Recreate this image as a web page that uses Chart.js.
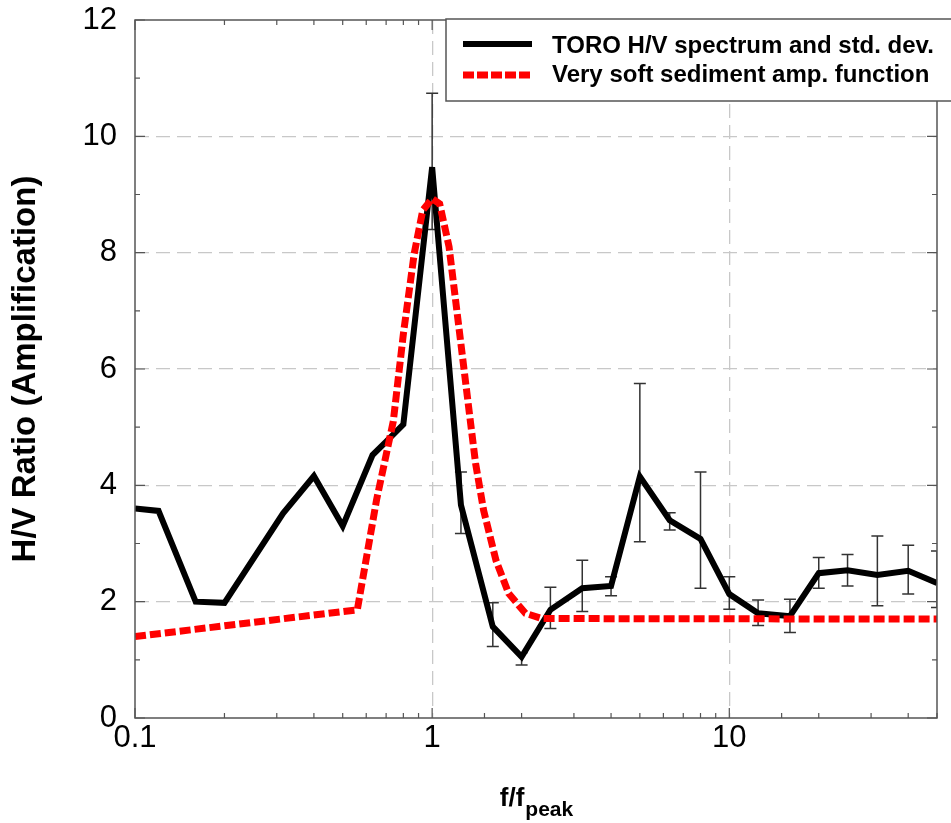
<!DOCTYPE html>
<html>
<head>
<meta charset="utf-8">
<script src="https://cdn.jsdelivr.net/npm/chart.js@4/dist/chart.umd.min.js"></script>
<style>
  html, body { margin: 0; padding: 0; background: #fff; }
  canvas { display: block; }
</style>
</head>
<body>
<canvas id="hv" width="951" height="823"></canvas>
<script>
// TORO H/V spectrum (f/fpeak)
const freqHV = [0.1, 0.12, 0.16, 0.2, 0.315, 0.4, 0.5, 0.63, 0.7, 0.8, 1.0, 1.25, 1.6, 2.0, 2.5, 3.2, 4.0, 5.0, 6.3, 8.0, 10, 12.5, 16, 20, 25, 31.5, 40, 50]
const hvRatio = [3.60, 3.56, 2.00, 1.98, 3.52, 4.16, 3.30, 4.52, 4.75, 5.05, 9.47, 3.66, 1.57, 1.05, 1.86, 2.23, 2.27, 4.15, 3.40, 3.08, 2.13, 1.80, 1.75, 2.49, 2.54, 2.46, 2.53, 2.32]
// std. dev. bars (null = none drawn)
const hvHigh = [null, null, null, null, null, null, null, null, null, null, 10.74, 4.23, 1.98, 1.12, 2.25, 2.71, 2.43, 5.75, 3.53, 4.23, 2.43, 2.03, 2.04, 2.76, 2.81, 3.13, 2.97, 2.87]
const hvLow = [null, null, null, null, null, null, null, null, null, null, 8.40, 3.17, 1.23, 0.91, 1.54, 1.83, 2.10, 3.03, 3.23, 2.23, 1.87, 1.59, 1.47, 2.23, 2.27, 1.93, 2.13, 1.90]

// very soft sediment amplification function
const freqAmp = [0.1, 0.56, 0.65, 0.74, 0.8, 0.87, 0.93, 1.0, 1.06, 1.14, 1.23, 1.33, 1.4, 1.49, 1.64, 1.81, 2.06, 2.34, 50]
const ampFunc = [1.40, 1.86, 3.75, 5.10, 6.60, 7.98, 8.73, 8.93, 8.84, 8.10, 6.72, 5.30, 4.38, 3.57, 2.71, 2.14, 1.80, 1.71, 1.70]

const xTickLabels = [0.1, 1, 10]
const seriesNames = ['TORO H/V spectrum and std. dev.', 'Very soft sediment amp. function']

const FONT = "'Liberation Sans', Arial, sans-serif"
const FRAME = '#555'
const GRID = '#c8c8c8'

const isDecade = v => Math.abs(Math.log10(v) - Math.round(Math.log10(v))) < 1e-6

// error bars, drawn under the lines
const errorBars = {
  id: 'errorBars',
  beforeDatasetsDraw(chart) {
    const { ctx, chartArea, scales: { x, y } } = chart
    ctx.save()
    ctx.beginPath()
    ctx.rect(chartArea.left, chartArea.top, chartArea.right - chartArea.left, chartArea.bottom - chartArea.top)
    ctx.clip()
    ctx.strokeStyle = '#333'
    ctx.lineWidth = 1.5
    freqHV.forEach((f, i) => {
      if (hvHigh[i] == null) return
      const px = x.getPixelForValue(f)
      const yt = y.getPixelForValue(hvHigh[i])
      const yb = y.getPixelForValue(hvLow[i])
      ctx.beginPath()
      ctx.moveTo(px, yt); ctx.lineTo(px, yb)
      ctx.moveTo(px - 6, yt); ctx.lineTo(px + 6, yt)
      ctx.moveTo(px - 6, yb); ctx.lineTo(px + 6, yb)
      ctx.stroke()
    })
    ctx.restore()
  }
}

// box frame with inward ticks, x title with subscript, boxed legend
const frameAndLegend = {
  id: 'frameAndLegend',
  afterDraw(chart) {
    const { ctx, chartArea: a, scales: { x, y } } = chart
    ctx.save()
    ctx.strokeStyle = FRAME
    ctx.lineWidth = 1.5
    ctx.strokeRect(a.left, a.top, a.right - a.left, a.bottom - a.top)

    ctx.lineWidth = 1.2
    ctx.beginPath()
    x.ticks.forEach(t => {
      const px = x.getPixelForValue(t.value)
      const len = isDecade(t.value) ? 10 : 5
      ctx.moveTo(px, a.bottom); ctx.lineTo(px, a.bottom - len)
      ctx.moveTo(px, a.top); ctx.lineTo(px, a.top + len)
    })
    y.ticks.forEach(t => {
      const py = y.getPixelForValue(t.value)
      const len = t.value % 2 === 0 ? 10 : 5
      ctx.moveTo(a.left, py); ctx.lineTo(a.left + len, py)
      ctx.moveTo(a.right, py); ctx.lineTo(a.right - len, py)
    })
    ctx.stroke()

    // x title f/f_peak
    ctx.fillStyle = '#000'
    ctx.textBaseline = 'alphabetic'
    const main = 'f/f'
    ctx.font = 'bold 21px ' + FONT
    const subW = ctx.measureText('peak').width
    ctx.font = 'bold 26px ' + FONT
    const mainW = ctx.measureText(main).width
    const cx = (a.left + a.right) / 2
    const sx = cx - (mainW + subW) / 2
    ctx.fillText(main, sx, 806)
    ctx.font = 'bold 21px ' + FONT
    ctx.fillText('peak', sx + mainW + 1, 816)

    // legend box
    ctx.fillStyle = '#fff'
    ctx.fillRect(446, 19, 520, 82)
    ctx.strokeStyle = FRAME
    ctx.lineWidth = 1.5
    ctx.strokeRect(446, 19, 520, 82)

    const ds = chart.data.datasets
    ctx.lineCap = 'butt'
    ctx.strokeStyle = ds[0].borderColor
    ctx.lineWidth = 6
    ctx.beginPath(); ctx.moveTo(463, 44); ctx.lineTo(532, 44); ctx.stroke()
    ctx.strokeStyle = ds[1].borderColor
    ctx.lineWidth = 7
    ctx.setLineDash([11, 3])
    ctx.beginPath(); ctx.moveTo(463, 75); ctx.lineTo(532, 75); ctx.stroke()
    ctx.setLineDash([])

    ctx.fillStyle = '#000'
    ctx.font = 'bold 24px ' + FONT
    ctx.fillText(seriesNames[0], 552, 53)
    ctx.fillText(seriesNames[1], 552, 82)
    ctx.restore()
  }
}

new Chart(document.getElementById('hv'), {
  type: 'line',
  data: {
    datasets: [
      {
        label: seriesNames[0],
        data: freqHV.map((f, i) => ({ x: f, y: hvRatio[i] })),
        borderColor: '#000',
        borderWidth: 6,
        pointRadius: 0,
        tension: 0,
        order: 1
      },
      {
        label: seriesNames[1],
        data: freqAmp.map((f, i) => ({ x: f, y: ampFunc[i] })),
        borderColor: '#ff0000',
        borderWidth: 7,
        borderDash: [11, 4],
        borderCapStyle: 'butt',
        pointRadius: 0,
        tension: 0,
        order: 0
      }
    ]
  },
  options: {
    responsive: false,
    animation: false,
    devicePixelRatio: 1,
    layout: { padding: { top: 20, right: 14, left: 0, bottom: 0 } },
    plugins: { legend: { display: false }, tooltip: { enabled: false } },
    scales: {
      x: {
        type: 'logarithmic',
        min: 0.1,
        max: 50,
        afterFit: s => { s.height = 105; s.paddingLeft = 0; s.paddingRight = 0 },
        border: { display: false, dash: [14, 7] },
        grid: {
          drawTicks: false,
          lineWidth: 1.3,
          color: c => (c.tick && (Math.abs(c.tick.value - 1) < 1e-9 || Math.abs(c.tick.value - 10) < 1e-9)) ? GRID : 'rgba(0,0,0,0)'
        },
        ticks: {
          autoSkip: false,
          maxRotation: 0,
          padding: 2,
          color: '#000',
          font: { family: FONT, size: 31 },
          callback: v => xTickLabels.some(t => Math.abs(t - v) < 1e-9) ? String(v) : ''
        }
      },
      y: {
        min: 0,
        max: 12,
        afterFit: s => { s.width = 135; s.paddingTop = 0; s.paddingBottom = 0 },
        border: { display: false, dash: [14, 7] },
        grid: {
          drawTicks: false,
          lineWidth: 1.3,
          color: c => (c.tick && c.tick.value % 2 === 0 && c.tick.value > 0 && c.tick.value < 12) ? GRID : 'rgba(0,0,0,0)'
        },
        ticks: {
          stepSize: 1,
          padding: 18,
          color: '#000',
          font: { family: FONT, size: 31 },
          callback: v => v % 2 === 0 ? String(v) : ''
        },
        title: {
          display: true,
          text: 'H/V Ratio (Amplification)',
          color: '#000',
          padding: { top: 6, bottom: 0 },
          font: { family: FONT, size: 33, weight: 'bold' }
        }
      }
    }
  },
  plugins: [errorBars, frameAndLegend]
})
</script>
</body>
</html>
